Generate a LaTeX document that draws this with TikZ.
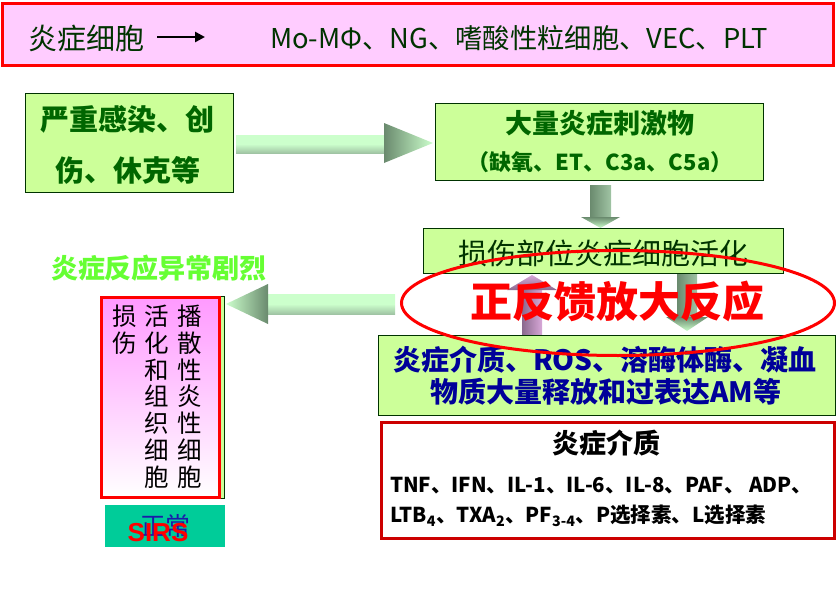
\documentclass[tikz,border=0pt]{standalone}
\usepackage{fontspec}
\setmainfont{Noto Sans CJK SC}
\newfontfamily\latinsans{Liberation Sans}
\usetikzlibrary{shapes.geometric,arrows.meta}
\definecolor{boxgreen}{HTML}{CCFF99}
\definecolor{edgegreen}{HTML}{003300}
\definecolor{txtgreen}{HTML}{006600}
\definecolor{toppink}{HTML}{FFCCFF}
\definecolor{navy}{HTML}{000099}
\definecolor{medred}{HTML}{CC0000}
\definecolor{lime}{HTML}{66FF33}
\definecolor{teal}{HTML}{00CC99}
\definecolor{lightarr}{HTML}{CCFFCC}
\definecolor{darkarr}{HTML}{6A8A6E}
\definecolor{midarr}{HTML}{A0C4A4}
\definecolor{purdark}{HTML}{8A6A8E}
\definecolor{purlight}{HTML}{D8A8D8}
\definecolor{normblue}{HTML}{1A1AAA}
\tikzset{
  gbox/.style={draw=edgegreen, line width=1pt, fill=boxgreen, inner sep=0pt},
  plain/.style={inner sep=0pt, outer sep=0pt}
}
\begin{document}
\begin{tikzpicture}[x=1pt,y=-1pt]
\useasboundingbox (0,0) rectangle (839,589);
% top box
\node[draw=red, line width=3pt, fill=toppink, minimum width=831, minimum height=62, plain] (top) at (417.5,34) {};
\node[plain, font=\fontsize{29}{29}\selectfont, text=edgegreen, anchor=west] (tc) at (28,38) {炎症细胞};
\coordinate (ta) at (157,37);
\coordinate (tb) at (205,37);
\draw[line width=2.5pt, -{Triangle[length=10pt,width=10pt]}] (ta) -- (tb);
\node[plain, font=\fontsize{27.3}{27.3}\selectfont, text=edgegreen, anchor=west] (cells) at (270,38) {Mo-MΦ、NG、嗜酸性粒细胞、VEC、PLT};

% arrows
% right arrow
\shade[top color=lightarr, bottom color=midarr, middle color=lightarr] (236,135) rectangle (385,153);
\shade[left color=darkarr, right color=lightarr] (384,123) -- (433,143) -- (384,163) -- cycle;
% left arrow
\shade[top color=lightarr, bottom color=midarr, middle color=lightarr] (268,294) rectangle (395,314);
\shade[right color=darkarr, left color=lightarr] (268,284) -- (226,304) -- (268,324) -- cycle;
% down arrow 1
\shade[left color=darkarr, right color=midarr] (590,185) rectangle (611,217);
\shade[top color=darkarr, bottom color=lightarr] (581,217) -- (600.5,228) -- (620,217) -- cycle;
% up arrow
\shade[left color=purdark, right color=purlight] (522,290) rectangle (542,335);
\shade[top color=purlight, bottom color=purdark] (507,290) -- (532,275) -- (557,290) -- cycle;
% down arrow 2
\shade[left color=darkarr, right color=midarr] (677,273) rectangle (697,317);
\shade[top color=darkarr, bottom color=lightarr] (666,317) -- (687,331) -- (708,317) -- cycle;

% green boxes
\node[gbox, minimum width=208, minimum height=99] (sev) at (129,142.5) {};
\node[plain, font=\fontsize{29}{51}\selectfont\bfseries, text=txtgreen, align=center] (sevt) at (128,144.5) {严重感染、创\\伤、休克等};

\node[gbox, minimum width=328, minimum height=77] (big) at (599,141.5) {};
\node[plain, font=\fontsize{27}{27}\selectfont\bfseries, text=txtgreen] (bigt) at (600,123) {大量炎症刺激物};
\node[plain, font=\fontsize{22}{22}\selectfont\bfseries, text=txtgreen] (bigs) at (600,162) {（缺氧、ET、C3a、C5a）};

\node[gbox, minimum width=360, minimum height=45] (act) at (603,250.5) {};
\node[plain, font=\fontsize{29}{29}\selectfont, text=edgegreen] (actt) at (603,253) {损伤部位炎症细胞活化};

\node[gbox, minimum width=457, minimum height=80] (ros) at (606.5,375) {};
\node[plain, font=\fontsize{28}{28}\selectfont\bfseries, text=navy] (ros1) at (605,360) {炎症介质、ROS、溶酶体酶、凝血};
\node[plain, font=\fontsize{28}{28}\selectfont\bfseries, text=navy] (ros2) at (606,392) {物质大量释放和过表达AM等};

% mediator box
\node[draw=medred, line width=3pt, fill=white, minimum width=453, minimum height=116, plain] (med) at (607.5,480) {};
\node[plain, font=\fontsize{27}{27}\selectfont\bfseries] (medt) at (606,443) {炎症介质};
\node[plain, font=\fontsize{20.5}{20.5}\selectfont\bfseries, anchor=west] (med1) at (390,486) {TNF、IFN、IL-1、IL-6、IL-8、PAF、 ADP、};
\node[plain, font=\fontsize{20.5}{20.5}\selectfont\bfseries, anchor=west] (med2) at (390,516) {LTB\textsubscript{4}、TXA\textsubscript{2}、PF\textsubscript{3-4}、P选择素、L选择素};

% left side
\node[plain, font=\fontsize{27}{27}\selectfont\bfseries, text=lime] (sev2) at (159,268) {炎症反应异常剧烈};
\node[gbox, minimum width=120, minimum height=202] (back) at (164,397) {};
\node[draw=red, line width=3pt, top color=magenta!40, bottom color=white, minimum width=118, minimum height=200, plain] (inj) at (160,397) {};
\node[plain, font=\fontsize{24.5}{26.8}\selectfont, align=center, anchor=north] (c1) at (125,305) {损\\伤};
\node[plain, font=\fontsize{24.5}{26.8}\selectfont, align=center, anchor=north] (c2) at (157,305) {活\\化\\和\\组\\织\\细\\胞};
\node[plain, font=\fontsize{24.5}{26.8}\selectfont, align=center, anchor=north] (c3) at (190,305) {播\\散\\性\\炎\\性\\细\\胞};

\node[fill=teal, minimum width=120, minimum height=42, plain] (sirs) at (165,526) {};
\node[plain, font=\fontsize{25}{25}\selectfont, text=normblue] (norm) at (165,526) {正常};
\node[plain, font=\latinsans\bfseries\fontsize{26}{26}\selectfont, text=red] (sirst) at (158,533) {SIRS};

% ellipse and feedback text
\node[draw=red, line width=3pt, ellipse, minimum width=433, minimum height=105, plain] (fb) at (618,303) {};
\node[plain, font=\fontsize{42}{42}\selectfont\bfseries, text=red] (fbt) at (617,301) {正反馈放大反应};
\end{tikzpicture}
\end{document}
